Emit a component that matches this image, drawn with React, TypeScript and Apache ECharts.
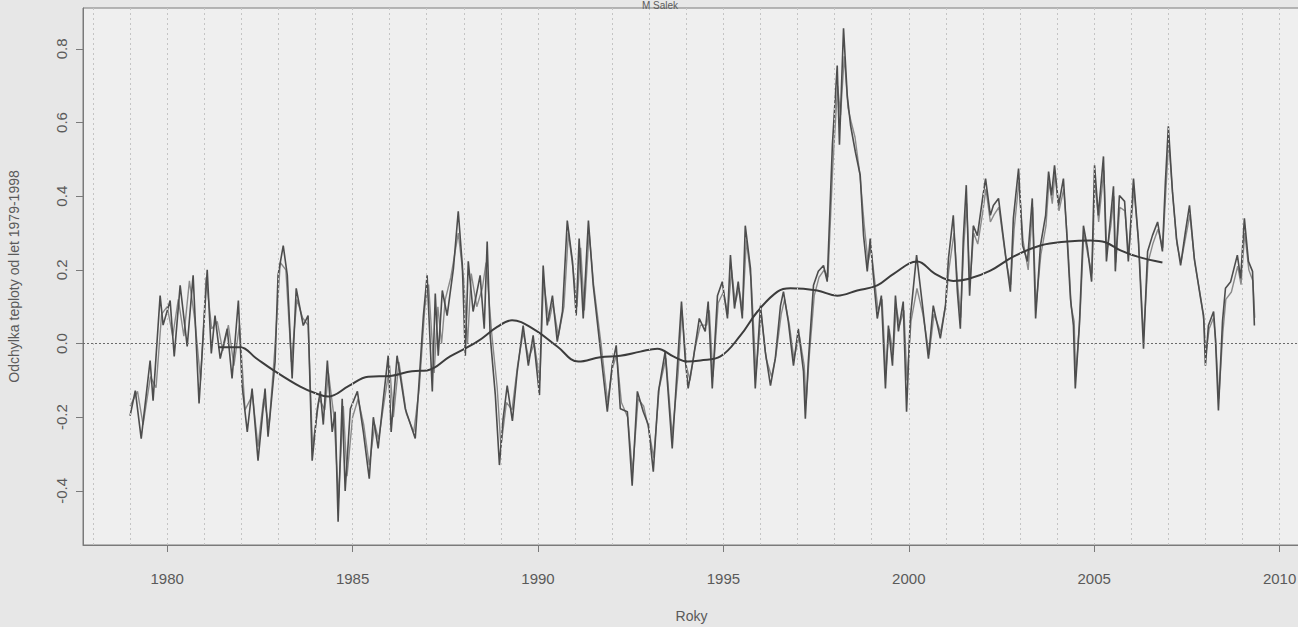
import React, { useEffect, useRef } from "react";
import * as echarts from "echarts";

const seriesA: [number, number][] = [
  [1979.0, -0.196], [1979.14, -0.128], [1979.3, -0.258], [1979.54, -0.046], [1979.62, -0.155], [1979.81, 0.13],
  [1979.89, 0.05], [1980.08, 0.117], [1980.19, -0.035], [1980.35, 0.158], [1980.54, -0.008], [1980.7, 0.185],
  [1980.86, -0.163], [1981.08, 0.2], [1981.19, -0.027], [1981.29, 0.076], [1981.43, -0.041], [1981.62, 0.04],
  [1981.75, -0.095], [1981.92, 0.117], [1982.02, -0.114], [1982.16, -0.24], [1982.29, -0.122], [1982.45, -0.318],
  [1982.64, -0.122], [1982.72, -0.253], [1982.91, -0.049], [1982.99, 0.185], [1983.13, 0.266], [1983.24, 0.185],
  [1983.37, -0.095], [1983.48, 0.15], [1983.67, 0.049], [1983.8, 0.076], [1983.91, -0.318], [1984.05, -0.177],
  [1984.13, -0.13], [1984.21, -0.22], [1984.32, -0.046], [1984.45, -0.24], [1984.53, -0.185], [1984.61, -0.484],
  [1984.72, -0.15], [1984.8, -0.4], [1984.94, -0.177], [1985.13, -0.13], [1985.29, -0.24], [1985.45, -0.367],
  [1985.56, -0.2], [1985.69, -0.285], [1985.83, -0.15], [1985.96, -0.033], [1986.04, -0.24], [1986.2, -0.033],
  [1986.42, -0.177], [1986.69, -0.258], [1986.77, -0.14], [1986.91, 0.076], [1987.01, 0.185], [1987.15, -0.13],
  [1987.23, 0.136], [1987.31, -0.033], [1987.42, 0.144], [1987.55, 0.076], [1987.72, 0.204], [1987.85, 0.359],
  [1987.96, 0.212], [1988.04, -0.033], [1988.12, 0.223], [1988.25, 0.087], [1988.44, 0.185], [1988.55, 0.04],
  [1988.63, 0.277], [1988.71, 0.022], [1988.85, -0.14], [1988.96, -0.33], [1989.06, -0.204], [1989.17, -0.114],
  [1989.31, -0.21], [1989.44, -0.076], [1989.6, 0.049], [1989.74, -0.06], [1989.87, 0.022], [1990.04, -0.14],
  [1990.14, 0.212], [1990.25, 0.049], [1990.39, 0.13], [1990.52, 0.005], [1990.66, 0.087], [1990.79, 0.334],
  [1990.93, 0.223], [1991.03, 0.076], [1991.11, 0.285], [1991.22, 0.068], [1991.36, 0.334], [1991.49, 0.158],
  [1991.68, -0.014], [1991.87, -0.185], [1992.0, -0.06], [1992.11, -0.005], [1992.22, -0.177], [1992.41, -0.185],
  [1992.54, -0.386], [1992.68, -0.13], [1992.84, -0.185], [1992.98, -0.222], [1993.11, -0.348], [1993.25, -0.13],
  [1993.43, -0.022], [1993.62, -0.285], [1993.76, -0.06], [1993.87, 0.114], [1993.97, -0.041], [1994.05, -0.122],
  [1994.19, -0.041], [1994.35, 0.068], [1994.51, 0.033], [1994.59, 0.114], [1994.7, -0.122], [1994.84, 0.13],
  [1994.97, 0.168], [1995.11, 0.068], [1995.19, 0.24], [1995.3, 0.095], [1995.4, 0.168], [1995.51, 0.068],
  [1995.59, 0.32], [1995.73, 0.204], [1995.86, -0.122], [1996.0, 0.103], [1996.13, -0.022], [1996.27, -0.114],
  [1996.4, -0.041], [1996.54, 0.103], [1996.62, 0.141], [1996.75, 0.06], [1996.89, -0.06], [1997.02, 0.04],
  [1997.16, -0.076], [1997.21, -0.204], [1997.29, -0.049], [1997.43, 0.158], [1997.56, 0.196], [1997.7, 0.212],
  [1997.8, 0.168], [1997.94, 0.54], [1998.07, 0.755], [1998.13, 0.54], [1998.24, 0.856], [1998.34, 0.674],
  [1998.43, 0.592], [1998.56, 0.52], [1998.69, 0.457], [1998.78, 0.293], [1998.88, 0.196], [1998.96, 0.285],
  [1999.05, 0.177], [1999.15, 0.068], [1999.26, 0.13], [1999.37, -0.122], [1999.45, 0.049], [1999.56, -0.06],
  [1999.64, 0.13], [1999.72, 0.033], [1999.85, 0.114], [1999.94, -0.185], [2000.04, 0.068], [2000.21, 0.24],
  [2000.37, 0.103], [2000.53, -0.041], [2000.66, 0.103], [2000.85, 0.014], [2000.99, 0.103], [2001.07, 0.231],
  [2001.2, 0.348], [2001.31, 0.141], [2001.39, 0.04], [2001.47, 0.285], [2001.55, 0.43], [2001.64, 0.13],
  [2001.74, 0.32], [2001.85, 0.293], [2001.99, 0.394], [2002.07, 0.448], [2002.2, 0.348], [2002.28, 0.375],
  [2002.42, 0.394], [2002.53, 0.304], [2002.61, 0.24], [2002.74, 0.141], [2002.82, 0.34], [2002.96, 0.475],
  [2003.07, 0.266], [2003.2, 0.223], [2003.33, 0.394], [2003.42, 0.068], [2003.55, 0.266], [2003.69, 0.348],
  [2003.77, 0.467], [2003.85, 0.402], [2003.93, 0.484], [2004.04, 0.375], [2004.17, 0.448], [2004.28, 0.266],
  [2004.36, 0.122], [2004.44, 0.049], [2004.49, -0.122], [2004.6, 0.049], [2004.71, 0.32], [2004.82, 0.258],
  [2004.93, 0.168], [2005.01, 0.484], [2005.11, 0.348], [2005.25, 0.508], [2005.33, 0.223], [2005.44, 0.34],
  [2005.52, 0.427], [2005.57, 0.196], [2005.68, 0.402], [2005.82, 0.386], [2005.92, 0.223], [2006.06, 0.448],
  [2006.19, 0.285], [2006.33, -0.014], [2006.44, 0.25], [2006.57, 0.293], [2006.71, 0.33], [2006.84, 0.25],
  [2006.92, 0.44], [2007.0, 0.59], [2007.11, 0.413], [2007.22, 0.285], [2007.33, 0.212], [2007.46, 0.304],
  [2007.57, 0.375], [2007.7, 0.231], [2007.87, 0.122], [2007.95, 0.076], [2008.0, -0.06], [2008.08, 0.049],
  [2008.22, 0.087], [2008.27, 0.014], [2008.35, -0.182], [2008.46, 0.06], [2008.54, 0.15], [2008.68, 0.168],
  [2008.86, 0.24], [2008.95, 0.177], [2009.05, 0.34], [2009.16, 0.223], [2009.27, 0.196], [2009.32, 0.049],
];

const seriesB: [number, number][] = [
  [1979.0, -0.17], [1979.2, -0.13], [1979.35, -0.22], [1979.55, -0.09], [1979.7, -0.12], [1979.85, 0.08],
  [1980.0, 0.1], [1980.15, 0.02], [1980.3, 0.12], [1980.45, 0.02], [1980.6, 0.17], [1980.75, 0.06],
  [1980.9, -0.1], [1981.05, 0.18], [1981.2, 0.04], [1981.35, 0.06], [1981.5, -0.02], [1981.65, 0.05],
  [1981.8, -0.06], [1981.95, 0.05], [1982.1, -0.18], [1982.3, -0.14], [1982.45, -0.28], [1982.6, -0.15],
  [1982.75, -0.22], [1982.9, -0.02], [1983.05, 0.22], [1983.2, 0.2], [1983.35, -0.05], [1983.5, 0.12],
  [1983.65, 0.07], [1983.8, 0.05], [1983.92, -0.28], [1984.1, -0.15], [1984.25, -0.18], [1984.35, -0.08],
  [1984.5, -0.2], [1984.62, -0.42], [1984.75, -0.17], [1984.85, -0.36], [1985.0, -0.2], [1985.15, -0.15],
  [1985.3, -0.22], [1985.45, -0.33], [1985.6, -0.22], [1985.7, -0.26], [1985.85, -0.16], [1986.0, -0.06],
  [1986.1, -0.2], [1986.25, -0.05], [1986.45, -0.19], [1986.65, -0.24], [1986.8, -0.12], [1986.95, 0.1],
  [1987.05, 0.16], [1987.2, -0.08], [1987.3, 0.1], [1987.4, 0.0], [1987.5, 0.12], [1987.65, 0.18],
  [1987.85, 0.3], [1988.0, 0.17], [1988.1, 0.0], [1988.2, 0.19], [1988.35, 0.1], [1988.5, 0.15],
  [1988.6, 0.22], [1988.75, 0.03], [1988.9, -0.12], [1989.0, -0.28], [1989.15, -0.16], [1989.3, -0.18],
  [1989.45, -0.06], [1989.6, 0.03], [1989.75, -0.04], [1989.9, 0.0], [1990.05, -0.1], [1990.15, 0.17],
  [1990.3, 0.06], [1990.4, 0.11], [1990.55, 0.02], [1990.7, 0.1], [1990.82, 0.3], [1990.95, 0.2],
  [1991.05, 0.1], [1991.15, 0.26], [1991.25, 0.09], [1991.38, 0.3], [1991.5, 0.16], [1991.7, 0.0],
  [1991.88, -0.16], [1992.0, -0.07], [1992.12, -0.03], [1992.25, -0.16], [1992.42, -0.2], [1992.55, -0.35],
  [1992.7, -0.15], [1992.85, -0.17], [1993.0, -0.24], [1993.12, -0.31], [1993.27, -0.12], [1993.45, -0.04],
  [1993.62, -0.25], [1993.78, -0.08], [1993.88, 0.09], [1994.0, -0.06], [1994.1, -0.1], [1994.22, -0.02],
  [1994.38, 0.05], [1994.55, 0.05], [1994.62, 0.09], [1994.72, -0.09], [1994.86, 0.11], [1995.0, 0.14],
  [1995.12, 0.08], [1995.22, 0.2], [1995.32, 0.11], [1995.42, 0.15], [1995.52, 0.09], [1995.62, 0.28],
  [1995.75, 0.17], [1995.88, -0.08], [1996.02, 0.08], [1996.15, -0.04], [1996.3, -0.09], [1996.42, -0.03],
  [1996.56, 0.08], [1996.65, 0.12], [1996.78, 0.05], [1996.9, -0.04], [1997.05, 0.02], [1997.18, -0.06],
  [1997.23, -0.16], [1997.32, -0.03], [1997.45, 0.13], [1997.58, 0.18], [1997.72, 0.2], [1997.82, 0.18],
  [1997.95, 0.48], [1998.08, 0.7], [1998.16, 0.62], [1998.26, 0.78], [1998.36, 0.64], [1998.45, 0.6],
  [1998.55, 0.56], [1998.68, 0.46], [1998.8, 0.32], [1998.9, 0.22], [1998.98, 0.26], [1999.07, 0.18],
  [1999.17, 0.09], [1999.28, 0.12], [1999.38, -0.08], [1999.47, 0.04], [1999.58, -0.03], [1999.66, 0.1],
  [1999.75, 0.05], [1999.87, 0.09], [1999.95, -0.1], [2000.06, 0.06], [2000.22, 0.15], [2000.38, 0.08],
  [2000.55, -0.03], [2000.68, 0.08], [2000.86, 0.03], [2001.0, 0.11], [2001.08, 0.2], [2001.22, 0.3],
  [2001.32, 0.16], [2001.4, 0.07], [2001.48, 0.26], [2001.56, 0.38], [2001.65, 0.16], [2001.75, 0.3],
  [2001.86, 0.27], [2002.0, 0.36], [2002.08, 0.42], [2002.2, 0.33], [2002.3, 0.35], [2002.43, 0.37],
  [2002.55, 0.28], [2002.63, 0.22], [2002.75, 0.16], [2002.84, 0.31], [2002.97, 0.44], [2003.08, 0.28],
  [2003.22, 0.2], [2003.34, 0.37], [2003.43, 0.1], [2003.56, 0.24], [2003.7, 0.32], [2003.78, 0.44],
  [2003.87, 0.38], [2003.94, 0.46], [2004.05, 0.36], [2004.18, 0.42], [2004.3, 0.25], [2004.38, 0.1],
  [2004.46, 0.06], [2004.5, -0.09], [2004.62, 0.08], [2004.72, 0.3], [2004.83, 0.24], [2004.94, 0.19],
  [2005.02, 0.44], [2005.12, 0.33], [2005.26, 0.47], [2005.34, 0.25], [2005.45, 0.32], [2005.53, 0.4],
  [2005.58, 0.22], [2005.69, 0.37], [2005.83, 0.36], [2005.93, 0.24], [2006.07, 0.42], [2006.2, 0.27],
  [2006.33, 0.02], [2006.45, 0.22], [2006.58, 0.27], [2006.72, 0.31], [2006.85, 0.26], [2006.93, 0.41],
  [2007.01, 0.55], [2007.12, 0.4], [2007.23, 0.27], [2007.34, 0.22], [2007.47, 0.29], [2007.58, 0.35],
  [2007.71, 0.22], [2007.88, 0.12], [2007.96, 0.06], [2008.01, -0.03], [2008.1, 0.04], [2008.22, 0.07],
  [2008.28, 0.0], [2008.36, -0.15], [2008.47, 0.03], [2008.55, 0.12], [2008.7, 0.14], [2008.87, 0.21],
  [2008.96, 0.16], [2009.06, 0.3], [2009.17, 0.2], [2009.28, 0.17], [2009.33, 0.07],
];

const smoothed: [number, number][] = [
  [1981.38, -0.01], [1981.97, -0.01], [1982.4, -0.04], [1982.86, -0.072], [1983.59, -0.117], [1984.0, -0.135],
  [1984.34, -0.144], [1984.9, -0.115], [1985.42, -0.09], [1986.02, -0.088], [1986.6, -0.075], [1987.01, -0.073],
  [1987.63, -0.035], [1988.36, 0.005], [1988.9, 0.045], [1989.3, 0.063], [1989.87, 0.04], [1990.52, -0.008],
  [1991.09, -0.049], [1991.68, -0.037], [1992.22, -0.033], [1992.76, -0.022], [1993.22, -0.014], [1993.65, -0.035],
  [1994.03, -0.049], [1994.38, -0.046], [1994.92, -0.035], [1995.46, 0.022], [1995.92, 0.087], [1996.46, 0.141],
  [1996.81, 0.15], [1997.53, 0.144], [1998.07, 0.13], [1998.61, 0.144], [1999.15, 0.158], [1999.6, 0.19],
  [2000.23, 0.223], [2000.7, 0.19], [2001.2, 0.17], [2001.6, 0.175], [2002.2, 0.198], [2002.82, 0.236],
  [2003.55, 0.266], [2004.28, 0.277], [2004.9, 0.28], [2005.3, 0.275], [2005.71, 0.253], [2006.17, 0.236],
  [2006.84, 0.22],
];

const xTicks = [1980, 1985, 1990, 1995, 2000, 2005, 2010];
const yTicks = [-0.4, -0.2, 0.0, 0.2, 0.4, 0.6, 0.8];
const gridYears = [1978, 1979, 1980, 1981, 1982, 1983, 1984, 1985, 1986, 1987, 1988, 1989, 1990, 1991, 1992, 1993, 1994, 1995, 1996, 1997, 1998, 1999, 2000, 2001, 2002, 2003, 2004, 2005, 2006, 2007, 2008, 2009, 2010];

const TEXT = "#5a5a5a";
const FONT = "'Liberation Sans', Arial, sans-serif";

export default function App() {
  const ref = useRef<HTMLDivElement>(null);
  useEffect(() => {
    if (!ref.current) return;
    const chart = echarts.init(ref.current, undefined, { renderer: "svg" });
    chart.setOption({
      animation: false,
      backgroundColor: "#e7e7e7",
      textStyle: { fontFamily: FONT },
      title: {
        text: "M Salek",
        left: 660,
        top: 0,
        padding: 0,
        textAlign: "center",
        textStyle: { fontSize: 10, fontWeight: "normal", color: TEXT, fontFamily: FONT, lineHeight: 10 },
      },
      grid: {
        left: 83,
        top: 8,
        right: -2,
        height: 537,
        show: true,
        outerBoundsMode: "none",
        containLabel: false,
        backgroundColor: "#efefef",
        borderColor: "#7a7a7a",
        borderWidth: 1,
      },
      xAxis: {
        type: "value",
        min: 1977.73,
        max: 2010.55,
        name: "Roky",
        nameLocation: "middle",
        nameGap: 64,
        nameTextStyle: { fontSize: 14, color: TEXT, fontFamily: FONT },
        axisLine: { show: true, onZero: false, lineStyle: { color: "#7a7a7a" } },
        axisTick: { show: true, length: 7, customValues: xTicks, lineStyle: { color: "#7a7a7a" } },
        axisLabel: {
          customValues: xTicks,
          margin: 26,
          fontSize: 15,
          color: TEXT,
          fontFamily: FONT,
          formatter: (v: number) => String(Math.round(v)),
        },
        splitLine: { show: false },
      },
      yAxis: {
        type: "value",
        min: -0.547,
        max: 0.911,
        name: "Odchylka teploty od let 1979-1998",
        nameLocation: "middle",
        nameGap: 62,
        nameRotate: 90,
        nameTextStyle: { fontSize: 14, color: TEXT, fontFamily: FONT },
        axisLine: { show: true, lineStyle: { color: "#7a7a7a" } },
        axisTick: { show: true, length: 7, customValues: yTicks, lineStyle: { color: "#7a7a7a" } },
        axisLabel: {
          customValues: yTicks,
          rotate: 90,
          margin: 14,
          fontSize: 15,
          color: TEXT,
          fontFamily: FONT,
          formatter: (v: number) => v.toFixed(1),
        },
        splitLine: { show: false },
      },
      series: [
        {
          type: "line",
          data: seriesB,
          showSymbol: false,
          symbol: "none",
          lineStyle: { color: "#8a8a8a", width: 1.4 },
          z: 2,
          markLine: {
            silent: true,
            symbol: "none",
            label: { show: false },
            lineStyle: { color: "#c4c4c4", type: [2, 3], width: 1 },
            data: gridYears.map((y) => ({ xAxis: y })),
          },
        },
        {
          type: "line",
          data: seriesA,
          showSymbol: false,
          symbol: "none",
          lineStyle: { color: "#4d4d4d", width: 1.6 },
          z: 3,
          markLine: {
            silent: true,
            symbol: "none",
            label: { show: false },
            lineStyle: { color: "#6a6a6a", type: [2, 2], width: 1 },
            data: [{ yAxis: 0 }],
          },
        },
        {
          type: "line",
          data: smoothed,
          smooth: 0.4,
          showSymbol: false,
          symbol: "none",
          lineStyle: { color: "#3c3c3c", width: 2 },
          z: 4,
        },
      ],
    });
    return () => chart.dispose();
  }, []);
  return (
    <div
      ref={ref}
      style={{ position: "fixed", left: 0, top: 0, width: 1298, height: 627 }}
    />
  );
}
